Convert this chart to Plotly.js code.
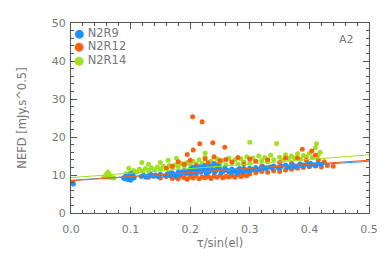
<!DOCTYPE html>
<html>
<head>
<meta charset="utf-8">
<script src="https://cdn.plot.ly/plotly-3.0.1.min.js"></script>
<style>html,body{margin:0;padding:0;background:#fff;}#chart{width:390px;height:260px;}</style>
</head>
<body>
<div id="chart"></div>
<script>
// Series names and colours
const seriesNames = ["N2R9", "N2R12", "N2R14"];
const seriesColors = ["#1E90FF", "#FF6010", "#A0E020"];

// N2R9
const x9 = [0.003,0.004,0.088,0.09,0.092,0.094,0.095,0.096,0.098,0.099,0.1,0.101,0.102,0.103,0.104,0.106,0.1,
  0.118,0.122,0.126,0.13,0.134,0.138,0.142,0.146,0.15,
  0.158,0.162,0.166,0.17,0.173,0.176,0.18,0.183,0.186,0.19,0.193,0.196,0.2,0.202,0.205,0.208,0.21,0.213,0.216,0.218,0.221,0.224,0.226,0.229,0.232,0.235,0.238,0.24,0.243,0.246,0.25,
  0.255,0.26,0.265,0.27,0.275,0.28,0.285,0.29,0.295,0.3,0.305,0.31,0.316,0.322,0.328,0.334,0.34,0.347,0.353,0.36,0.366,0.372,0.378,0.384,0.39,0.396,0.402,0.408,0.414,0.42,
  0.168,0.178,0.188,0.198,0.204,0.212,0.219,0.227,0.233,0.241,0.248,0.252,0.258,0.263,0.268,0.273,0.278,0.283,0.288,0.293,0.298,0.303,0.313,0.325,0.337,0.35,0.363,0.375,0.388,0.4,0.411];
const y9 = [8.0,7.6,9.3,9.0,9.6,9.9,8.8,9.4,10.2,9.1,9.7,10.4,9.0,9.5,10.0,9.3,8.6,
  9.6,9.9,9.4,9.8,10.1,9.7,10.0,9.6,10.2,
  9.8,10.3,9.9,10.5,10.1,9.7,10.8,10.2,10.6,11.2,10.4,10.9,11.5,10.3,10.8,11.9,10.6,11.3,12.2,10.7,11.6,12.5,11.0,11.8,10.9,12.3,11.4,13.0,11.1,12.0,11.5,
  10.9,11.3,10.8,11.6,11.1,11.4,11.0,11.7,11.3,11.8,11.5,12.0,11.6,12.2,11.9,12.1,12.4,12.0,12.3,12.6,12.2,12.7,12.4,12.9,12.6,12.8,13.1,12.7,13.0,12.8,
  10.6,10.2,11.0,10.6,12.0,11.0,11.8,10.4,12.2,10.7,12.4,10.5,11.9,11.2,10.7,11.0,10.5,11.7,10.8,11.2,10.9,11.3,11.3,11.7,11.8,11.8,12.0,12.1,12.3,12.4,12.5];

// N2R12
const x12 = [0.13,0.14,0.15,0.16,0.165,0.17,0.175,0.18,0.185,0.19,0.195,0.2,0.205,0.21,0.215,0.22,0.225,0.23,0.235,0.24,0.245,0.25,0.255,0.26,0.265,0.27,0.275,0.28,0.285,0.29,0.295,0.3,0.31,0.32,0.33,0.34,0.35,0.36,0.37,0.38,0.39,0.4,0.41,0.42,0.43,0.44,
  0.16,0.17,0.18,0.19,0.195,0.2,0.205,0.204,0.21,0.216,0.22,0.225,0.23,0.238,0.24,0.245,0.25,0.258,0.26,0.27,0.28,0.29,0.3,0.31,0.32,0.33,0.35,0.36,0.37,0.38,0.388,0.395,0.404,0.41,0.415,0.425];
const y12 = [9.4,9.8,9.2,9.6,10.3,9.1,9.5,9.0,9.8,9.3,8.9,9.6,9.2,9.9,9.0,9.5,9.3,9.7,9.1,9.8,9.4,9.9,9.3,9.7,9.5,9.9,9.4,10.1,9.6,10.0,9.8,10.3,10.6,10.9,10.7,11.1,10.9,11.3,11.5,11.8,12.0,12.2,12.4,12.1,12.5,12.3,
  11.8,12.3,13.5,12.8,15.4,13.9,16.6,25.3,12.5,18.2,24.0,14.3,13.2,18.5,14.8,12.7,13.8,17.3,14.1,13.4,14.6,12.9,14.2,13.6,12.4,14.0,13.3,14.5,13.1,14.4,16.8,13.9,16.3,15.2,14.0,13.5];

// N2R14
const x14 = [0.055,0.058,0.06,0.062,0.064,0.066,0.068,0.06,0.063,0.072,
  0.092,0.097,0.1,0.105,0.11,0.115,0.119,0.12,0.125,0.13,0.13,0.135,0.14,0.145,0.15,0.15,0.155,0.16,0.163,0.165,0.17,0.175,0.177,0.18,0.185,0.19,0.195,0.2,0.205,0.21,0.215,0.22,0.225,0.225,0.23,0.235,0.24,0.245,0.25,0.255,0.26,0.265,0.27,0.275,0.28,0.285,0.29,0.295,0.3,0.3,0.305,0.31,0.315,0.32,0.325,0.33,0.335,0.34,0.345,0.35,0.355,0.36,0.365,0.37,0.375,0.38,0.385,0.39,0.395,0.4,0.405,0.41,0.412,0.418,0.415];
const y14 = [9.4,9.8,10.3,10.7,10.2,9.7,9.3,9.5,9.4,9.2,
  10.3,11.8,10.6,11.2,10.8,11.5,13.3,11.0,11.7,12.8,11.2,11.9,11.4,12.1,13.3,11.6,12.3,11.8,13.9,12.5,12.0,12.7,14.4,12.2,13.0,12.4,13.3,12.6,13.6,12.9,14.0,13.1,14.6,15.8,12.8,13.7,12.5,14.2,13.0,13.8,12.7,14.4,13.2,14.0,12.9,14.3,13.4,14.8,13.1,18.6,14.5,13.6,15.0,13.8,14.6,13.5,15.2,14.0,18.3,14.7,13.9,15.3,14.3,15.0,14.5,15.6,14.2,15.1,14.8,15.7,14.6,17.2,18.2,16.0,15.4];

// Linear fits (values at x = 0 and x = 0.5)
const fitX = [0, 0.5];
const fit9 = [8.6, 13.6];
const fit12 = [8.5, 13.9];
const fit14 = [9.3, 15.3];

// Axis ticks
const xTicks = [0, 0.1, 0.2, 0.3, 0.4, 0.5];
const xTickText = ["0.0", "0.1", "0.2", "0.3", "0.4", "0.5"];
const yTicks = [0, 10, 20, 30, 40, 50];

const xs = [x9, x12, x14];
const ys = [y9, y12, y14];
const fits = [fit9, fit12, fit14];

const traces = [];
const order = [2, 1, 0];
for (const i of order) {
  traces.push({
    type: "scatter", mode: "markers", x: xs[i], y: ys[i], name: seriesNames[i],
    marker: {color: seriesColors[i], size: 5, line: {width: 0}}, showlegend: false
  });
}
for (let i = 0; i < 3; i++) {
  traces.push({
    type: "scatter", mode: "lines", x: fitX, y: fits[i], showlegend: false,
    line: {color: seriesColors[i], width: 1}
  });
}

const gray = "#777777";
const axisCommon = {
  showgrid: false, zeroline: false, showline: true, linecolor: "#555555", linewidth: 1,
  mirror: "allticks", ticks: "inside", ticklen: 6, tickcolor: "#555555", tickwidth: 1,
  tickfont: {family: "DejaVu Sans", size: 11, color: gray}
};

const annotations = [];
for (let i = 0; i < 3; i++) {
  annotations.push({
    xref: "paper", yref: "paper", x: 0.005, y: 0.95 - i * 0.072, xanchor: "left", yanchor: "middle",
    showarrow: false,
    text: '<span style="color:' + seriesColors[i] + '">●</span> ' + seriesNames[i],
    font: {family: "DejaVu Sans", size: 11.5, color: gray}
  });
}
annotations.push({
  xref: "paper", yref: "paper", x: 0.925, y: 0.915, xanchor: "center", yanchor: "middle",
  showarrow: false, text: "A2", font: {family: "DejaVu Sans", size: 11, color: gray}
});

const layout = {
  width: 390, height: 260,
  margin: {l: 71, r: 21, t: 23, b: 47, pad: 0},
  paper_bgcolor: "#ffffff", plot_bgcolor: "#ffffff",
  showlegend: false,
  xaxis: Object.assign({}, axisCommon, {
    range: [0, 0.5], tickvals: xTicks, ticktext: xTickText, ticklabelstandoff: 6,
    minor: {dtick: 0.02, ticks: "inside", ticklen: 3, tickcolor: "#555555"},
    title: {text: "τ/sin(el)", font: {family: "DejaVu Sans", size: 11.5, color: gray}, standoff: 2}
  }),
  yaxis: Object.assign({}, axisCommon, {
    range: [0, 50], tickvals: yTicks, ticklabelstandoff: 2,
    minor: {dtick: 2, ticks: "inside", ticklen: 3, tickcolor: "#555555"},
    title: {text: "NEFD [mJy.s^0.5]", font: {family: "DejaVu Sans", size: 11.5, color: gray}, standoff: 22}
  }),
  annotations: annotations
};

Plotly.newPlot("chart", traces, layout, {staticPlot: true, displayModeBar: false});
</script>
</body>
</html>
